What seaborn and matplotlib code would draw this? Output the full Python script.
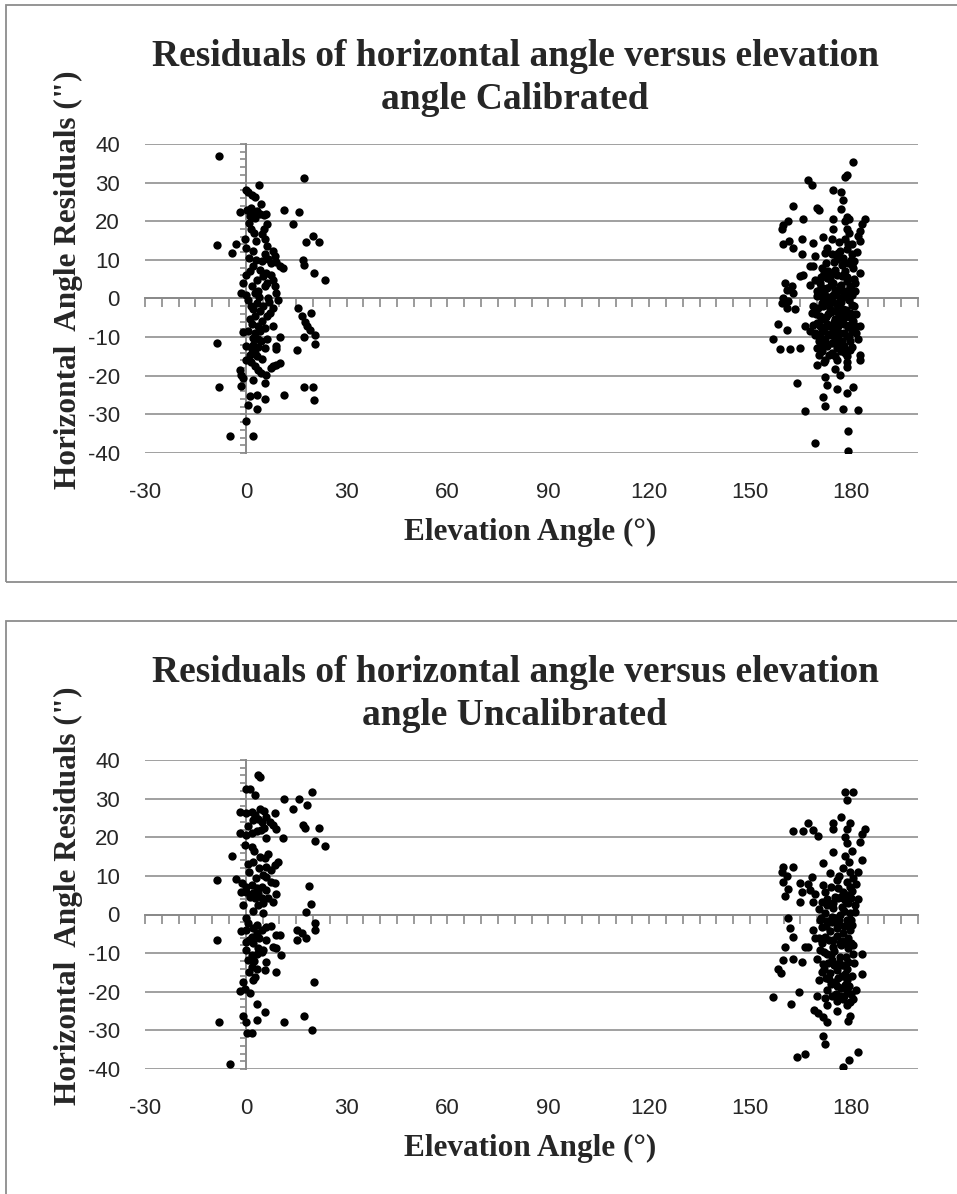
import numpy as np
import pandas as pd
import seaborn as sns
import matplotlib.pyplot as plt
from matplotlib.patches import Rectangle
from matplotlib.ticker import MultipleLocator

# (elevation angle in degrees, horizontal angle residual in arc seconds)
cal_low = [
    (-8.0, 36.9), (17.4, 31.1), (3.9, 29.5), (0.0, 28.2), (0.7, 27.5), (1.7, 26.9), (2.7, 26.3), (4.4, 24.4),
    (-1.8, 22.4), (0.4, 22.9), (1.5, 23.5), (2.2, 22.2), (3.2, 22.6), (4.2, 21.8), (5.4, 21.5), (2.7, 20.9),
    (1.2, 21.3), (6.0, 22.0), (11.4, 22.8), (15.8, 22.4), (13.9, 19.2), (6.2, 19.2), (1.5, 18.0), (5.4, 18.0),
    (4.9, 16.6), (5.7, 15.5), (20.0, 16.1), (18.0, 14.6), (21.8, 14.6), (-0.3, 15.3), (-8.7, 13.9), (-2.8, 14.0),
    (-4.0, 11.8), (0.2, 13.1), (2.2, 12.4), (6.2, 13.6), (8.1, 12.3), (5.7, 11.4), (8.6, 11.1), (6.6, 10.1),
    (7.6, 9.1), (9.1, 9.4), (10.1, 8.5), (11.1, 7.9), (4.7, 9.7), (16.9, 9.9), (17.4, 8.8), (2.0, 8.5),
    (1.2, 7.1), (4.2, 7.3), (20.2, 6.6), (5.2, 5.8), (3.2, 4.9), (0.2, 6.0), (23.5, 4.7), (8.1, 4.9),
    (6.2, 4.1), (-0.8, 4.1), (1.7, 3.2), (3.7, 1.9), (5.7, 3.2), (8.6, 3.2), (9.1, 1.5), (-1.3, 1.5),
    (0.2, 1.0), (2.7, 1.3), (9.6, -0.4), (3.2, -1.1), (5.1, -2.0), (8.1, -2.4), (2.2, -2.8), (4.2, -3.3),
    (7.1, -3.7), (15.6, -2.4), (19.3, -3.7), (16.6, -4.6), (2.7, -4.6), (1.2, -5.4), (4.7, -5.9), (6.2, -4.6),
    (17.6, -6.1), (18.1, -7.2), (3.7, -7.2), (1.7, -6.7), (-0.8, -8.7), (0.7, -8.5), (2.7, -8.9), (4.2, -8.5),
    (5.7, -7.6), (8.1, -7.2), (19.0, -8.2), (2.2, -10.2), (3.7, -10.6), (6.2, -10.4), (10.1, -9.9), (17.4, -9.9),
    (20.5, -9.5), (20.5, -11.9), (-8.7, -11.5), (0.2, -12.3), (1.7, -13.2), (2.7, -14.1), (1.2, -14.5), (5.7, -12.8),
    (9.1, -12.3), (9.1, -13.2), (15.1, -13.4), (4.9, -15.6), (3.2, -14.9), (8.1, -17.5), (9.1, -17.1), (10.1, -16.7),
    (7.5, -17.9), (2.7, -17.5), (3.7, -18.4), (-1.8, -18.4), (-1.3, -19.7), (4.6, -19.3), (5.9, -19.7), (-0.8, -20.6),
    (-1.3, -22.7), (2.2, -21.2), (5.7, -21.8), (-8.0, -22.9), (17.4, -22.9), (20.0, -22.9), (1.2, -25.3), (3.2, -24.9),
    (5.7, -26.0), (11.4, -24.9), (20.2, -26.4), (0.7, -27.5), (3.2, -28.6), (0.2, -31.8), (-4.6, -35.7), (2.2, -35.7),
    (1.0, 10.5), (3.0, 10.0), (0.5, -0.5), (1.5, -2.0), (4.0, 0.5), (6.5, 0.0), (7.0, -1.0), (2.0, -12.0),
    (3.5, -12.5), (4.5, -11.0), (0.0, -16.0), (1.5, -16.5), (6.0, 6.5), (7.5, 6.0), (3.0, 15.0), (2.5, 17.0),
    (0.8, 19.5),
]

cal_high = [
    (180.6, 35.3), (178.8, 32.1), (178.3, 31.5), (167.4, 30.7), (168.4, 29.5), (174.6, 28.1), (177.0, 27.5), (177.8, 25.4),
    (162.7, 23.9), (169.8, 23.5), (170.6, 22.8), (177.0, 23.2), (165.9, 20.7), (174.6, 20.6), (178.8, 21.2), (179.6, 20.5),
    (184.2, 20.7), (178.3, 20.0), (183.2, 19.2), (161.4, 20.0), (159.9, 18.9), (159.4, 17.9), (178.8, 18.0), (174.6, 17.9),
    (182.7, 17.4), (171.6, 16.0), (174.3, 15.3), (165.4, 15.3), (168.7, 14.4), (161.7, 15.0), (159.7, 14.0), (182.7, 14.9),
    (179.3, 14.0), (182.2, 16.1), (178.3, 15.5), (162.9, 13.1), (165.4, 11.4), (169.3, 11.0), (172.3, 11.8), (174.3, 11.4),
    (176.3, 11.8), (178.8, 12.7), (180.3, 11.4), (177.8, 10.5), (175.8, 10.1), (167.9, 8.4), (168.8, 8.4), (171.3, 7.9),
    (173.3, 7.1), (175.3, 7.5), (177.3, 8.8), (179.3, 9.2), (180.8, 7.9), (182.7, 6.6), (165.9, 6.0), (164.9, 5.8),
    (169.3, 4.9), (170.8, 4.1), (172.8, 5.4), (174.8, 4.1), (177.3, 5.8), (178.8, 4.5), (179.8, 3.2), (181.2, 4.1),
    (160.4, 4.1), (162.4, 3.2), (167.9, 3.6), (172.8, 2.8), (175.3, 2.3), (176.8, 3.2), (181.2, 1.9), (160.9, 2.3),
    (162.9, 1.5), (159.9, 0.2), (161.4, -0.7), (159.4, -1.1), (160.9, -2.4), (163.4, -2.8), (169.8, 0.6), (171.3, -1.1),
    (172.8, -0.3), (174.8, 1.0), (176.8, -0.7), (178.8, 0.6), (180.3, -1.6), (168.8, -1.9), (171.8, -1.9), (173.8, -2.8),
    (175.8, -1.6), (177.8, -2.8), (168.4, -3.7), (170.8, -4.6), (173.3, -4.1), (175.3, -5.4), (177.3, -4.6), (179.8, -3.7),
    (180.8, -5.9), (169.8, -6.3), (172.8, -6.7), (176.3, -7.2), (182.7, -7.2), (166.4, -7.2), (158.4, -6.5), (160.9, -8.2),
    (167.9, -8.5), (169.3, -8.9), (171.3, -8.5), (173.3, -9.3), (174.8, -8.0), (176.8, -8.9), (178.8, -9.8), (180.3, -8.5),
    (179.8, -11.1), (172.3, -10.6), (174.3, -11.5), (176.3, -10.6), (156.9, -10.4), (170.8, -9.8), (158.9, -13.0), (161.9, -13.0),
    (164.9, -12.8), (169.8, -12.8), (171.3, -13.6), (172.8, -12.3), (175.8, -12.8), (178.3, -14.1), (179.8, -13.4), (182.7, -14.5),
    (182.7, -15.8), (178.8, -14.9), (172.3, -15.8), (169.8, -17.1), (175.3, -18.2), (176.8, -19.7), (178.8, -17.7), (172.3, -20.3),
    (163.9, -21.8), (172.8, -22.5), (175.8, -23.4), (180.8, -22.9), (178.8, -24.4), (171.6, -25.5), (166.4, -29.0), (172.3, -27.9),
    (177.6, -28.6), (182.2, -28.9), (179.3, -34.4), (169.3, -37.4), (179.3, -39.6),
    (170.2, -2.5), (171.5, -5.2), (172.4, -7.5), (173.5, -1.2), (174.2, -3.4), (175.0, -6.0), (175.9, -8.6), (176.5, -4.2),
    (177.2, -1.0), (178.0, -6.5), (178.6, -3.0), (179.2, -7.5), (180.0, -5.0), (181.0, -2.0), (169.5, -9.5), (170.5, -11.0),
    (171.9, -10.8), (173.0, -12.0), (174.0, -9.5), (175.2, -10.2), (176.1, -12.0), (177.4, -11.0), (178.1, -9.0), (179.5, -10.0),
    (181.5, -9.0), (170.0, 2.0), (171.0, 3.0), (172.0, 1.5), (173.2, 0.5), (174.0, 3.5), (175.5, 1.0), (176.5, 2.5),
    (177.5, 0.0), (178.5, 2.0), (179.5, -0.5), (180.5, 1.0), (172.0, 6.5), (173.8, 5.0), (175.0, 9.5), (176.0, 6.0),
    (177.0, 3.5), (178.2, 7.0), (179.0, 5.5), (180.0, 10.0), (181.0, 5.0), (181.8, 12.0), (180.5, 14.0), (179.5, 17.0),
    (176.5, 14.5), (173.0, 13.0), (170.5, -14.5), (172.0, -16.5), (174.5, -14.0), (176.0, -16.0), (177.0, -13.5), (179.0, -16.5),
    (180.5, -12.5), (181.5, -4.0), (182.0, -10.5), (168.8, -6.8),
    (170.9, -7.0), (173.9, -7.0), (176.9, -6.2), (179.9, -6.8), (171.6, 0.0), (174.6, -1.0), (177.6, 1.6), (180.2, 2.4),
    (169.6, -4.0), (172.6, -4.8), (175.6, -3.2), (178.4, -4.8), (181.3, -7.0), (171.2, 5.6), (174.4, 6.6), (177.6, 6.2),
    (180.4, 8.6), (172.6, 9.2), (176.8, 12.4), (173.6, -14.6), (177.9, -12.4), (175.4, -15.0), (171.0, -12.4), (181.0, 9.6),
]

uncal_low = [
    (3.7, 36.1), (4.3, 35.5), (0.0, 32.4), (1.2, 32.4), (2.7, 31.0), (19.8, 31.8), (11.4, 29.8), (15.9, 29.8),
    (18.1, 28.4), (13.9, 27.2), (-1.8, 26.6), (0.2, 26.2), (1.7, 26.6), (2.7, 25.8), (4.1, 27.2), (5.3, 26.9),
    (3.6, 24.8), (2.2, 24.4), (8.6, 26.2), (6.1, 25.3), (4.9, 24.0), (7.1, 24.0), (8.1, 23.2), (9.1, 22.1),
    (16.9, 23.2), (17.6, 22.3), (21.8, 22.5), (-1.8, 21.0), (0.2, 20.6), (1.7, 21.0), (3.2, 21.5), (4.6, 21.9),
    (6.1, 19.7), (11.1, 19.7), (20.5, 18.9), (23.5, 17.8), (-0.3, 18.0), (1.7, 17.4), (-4.0, 15.2), (4.1, 15.0),
    (6.6, 15.7), (5.6, 14.7), (9.6, 13.7), (0.7, 13.2), (2.2, 13.7), (6.1, 12.4), (7.6, 11.5), (8.6, 12.8),
    (5.2, 10.2), (6.1, 9.8), (7.6, 8.5), (8.6, 8.2), (-8.7, 8.9), (-2.8, 9.1), (-1.0, 8.1), (0.2, 7.2),
    (1.7, 7.6), (3.2, 6.8), (4.7, 7.2), (6.1, 6.3), (18.8, 7.4), (-1.3, 5.9), (0.2, 5.9), (2.2, 5.5),
    (3.7, 5.5), (2.7, 4.2), (1.2, 4.6), (4.7, 4.2), (9.1, 5.3), (8.1, 3.3), (6.6, 4.2), (-0.8, 2.5),
    (3.7, 2.5), (5.2, 2.9), (19.5, 2.7), (17.9, 0.7), (0.0, -1.0), (0.7, -2.3), (2.2, -3.6), (-1.3, -4.4),
    (0.2, -4.0), (3.2, -2.7), (4.7, -4.0), (6.1, -3.2), (7.6, -3.0), (3.2, -4.9), (1.7, -5.7), (9.1, -5.3),
    (10.1, -5.3), (15.1, -4.0), (16.7, -4.9), (17.9, -6.0), (20.5, -2.1), (20.5, -4.0), (-8.7, -6.6), (15.1, -6.6),
    (6.1, -6.6), (8.1, -8.3), (9.1, -8.7), (0.2, -7.0), (2.2, -7.5), (3.7, -8.8), (5.2, -9.2), (0.2, -9.2),
    (1.7, -10.5), (3.2, -10.1), (4.7, -9.6), (6.1, -12.2), (0.7, -11.7), (10.5, -10.5), (1.7, -13.5), (3.2, -14.0),
    (5.6, -14.4), (9.1, -14.8), (2.7, -16.1), (2.2, -17.0), (20.3, -17.4), (-0.8, -17.4), (-1.8, -19.7), (-0.3, -19.4),
    (1.2, -20.4), (3.2, -23.2), (5.6, -25.2), (-0.8, -26.2), (0.2, -27.8), (3.2, -27.2), (-8.1, -27.8), (11.4, -27.8),
    (17.4, -26.2), (19.8, -29.9), (0.4, -30.8), (1.7, -30.8), (-4.6, -38.6),
    (1.0, 11.0), (3.0, 9.5), (4.0, 12.0), (2.5, 16.5), (0.5, 23.0), (5.5, 22.5), (1.0, -6.5), (4.0, -6.0),
    (2.5, -12.0), (0.8, -15.0), (5.0, 0.5), (2.0, 1.0),
]

uncal_high = [
    (178.3, 31.6), (180.8, 31.8), (178.8, 29.7), (177.0, 25.2), (174.8, 23.8), (179.8, 23.8), (174.6, 22.1), (167.4, 23.8),
    (168.8, 21.9), (170.3, 20.3), (162.7, 21.6), (165.7, 21.6), (184.2, 22.1), (183.2, 20.9), (178.9, 22.2), (178.3, 20.1),
    (182.7, 18.8), (178.8, 18.4), (174.6, 16.3), (178.3, 15.2), (183.2, 14.1), (171.6, 13.3), (159.7, 12.4), (162.7, 12.2),
    (159.4, 11.1), (160.9, 10.0), (173.8, 10.7), (177.8, 12.0), (179.8, 11.1), (182.2, 11.1), (168.4, 9.6), (159.9, 8.5),
    (164.9, 8.1), (167.4, 7.9), (171.8, 7.6), (175.8, 8.9), (178.8, 8.5), (180.8, 9.4), (161.4, 6.5), (160.4, 4.8),
    (165.4, 5.7), (167.9, 6.4), (169.3, 5.4), (172.3, 5.9), (176.3, 6.8), (177.8, 5.9), (179.8, 7.2), (168.8, 3.3),
    (171.3, 3.3), (164.9, 3.3), (175.3, 4.6), (177.8, 4.2), (172.8, 2.5), (174.8, 1.6), (177.3, 2.0), (179.3, 2.9),
    (181.2, 2.5), (172.3, 0.3), (174.3, -0.6), (176.8, -0.1), (179.8, 0.3), (181.2, 0.7), (170.8, -1.4), (175.8, -2.3),
    (178.8, -1.4), (161.4, -1.0), (180.3, -2.7), (161.9, -3.6), (168.8, -4.0), (171.3, -3.2), (173.8, -4.4), (175.8, -3.6),
    (177.8, -4.9), (179.8, -4.0), (162.9, -5.7), (169.3, -6.2), (172.3, -5.7), (174.8, -6.6), (176.8, -7.5), (179.3, -6.2),
    (166.4, -8.3), (167.4, -8.5), (160.4, -8.3), (170.8, -9.2), (172.8, -10.1), (174.8, -8.3), (176.8, -10.9), (179.3, -8.8),
    (180.8, -10.1), (183.2, -10.1), (159.9, -11.8), (162.9, -11.4), (165.4, -12.2), (171.8, -12.7), (174.3, -11.8), (177.3, -13.1),
    (179.3, -12.2), (158.4, -14.2), (159.1, -15.1), (171.3, -14.8), (173.8, -15.2), (175.8, -14.4), (178.3, -15.4), (183.2, -15.4),
    (170.6, -16.9), (172.6, -16.5), (175.3, -17.4), (178.8, -17.0), (156.9, -21.4), (164.7, -20.0), (169.8, -21.1), (172.3, -21.7),
    (175.8, -22.3), (177.8, -22.0), (179.8, -22.6), (180.8, -22.0), (162.1, -23.2), (178.8, -19.6), (178.3, -18.3), (169.0, -24.6),
    (170.3, -25.6), (171.8, -26.5), (173.0, -27.8), (179.8, -26.3), (179.3, -27.5), (171.6, -31.5), (172.3, -33.5), (163.9, -37.0),
    (166.4, -36.0), (182.2, -35.5), (179.6, -37.7), (177.6, -39.6),
    (171.0, -1.0), (172.5, -3.0), (173.5, -6.5), (174.5, -2.0), (175.0, -9.5), (176.0, -5.5), (177.0, -8.0), (178.0, -3.0),
    (178.5, -11.0), (179.0, -14.0), (180.0, -7.5), (181.0, -12.5), (170.0, -11.5), (171.5, -7.5), (172.0, -14.0), (173.2, -12.5),
    (174.0, -18.0), (175.0, -13.0), (176.2, -16.5), (177.2, -19.0), (178.0, -21.0), (179.5, -18.5), (180.5, -16.0), (181.5, -19.5),
    (173.0, -19.5), (174.5, -21.0), (176.5, -1.5), (178.0, 1.0), (180.0, -1.5), (177.0, 4.5), (179.0, 5.0), (180.5, 6.0),
    (181.5, 8.0), (182.0, 4.0), (179.5, 13.5), (180.5, 16.5), (176.5, 10.0), (174.0, 7.0), (173.0, 4.0), (170.5, 1.5),
    (175.5, -20.5), (177.5, -16.0), (179.0, -23.5), (176.0, -25.0),
    (171.9, -9.8), (174.1, -10.6), (176.4, -12.6), (178.6, -7.2), (180.6, -8.0), (170.4, -6.0), (172.9, -1.6), (175.2, -0.8),
    (177.5, -6.8), (179.6, -2.6), (173.4, -16.6), (175.9, -18.6), (178.2, -13.2), (180.2, -20.6), (176.8, -21.2), (172.9, -23.5),
    (174.6, 3.0), (178.4, 3.8), (176.2, 4.2), (180.0, 4.4),
]

panels = [
    ("Residuals of horizontal angle versus elevation\nangle Calibrated", cal_low + cal_high),
    ("Residuals of horizontal angle versus elevation\nangle Uncalibrated", uncal_low + uncal_high),
]

x_labels = list(range(-30, 181, 30))
y_labels = list(range(-40, 41, 10))

sns.set_style("white")
plt.rcParams['font.family'] = ['Liberation Sans', 'DejaVu Sans']
plt.rcParams['axes.unicode_minus'] = False

grid_gray = '#a0a0a0'
axis_gray = '#8a8a8a'
serif_bold = dict(family=['Liberation Serif', 'DejaVu Serif'], weight='bold')

fig = plt.figure(figsize=(9.57, 11.94), dpi=100)
W, H = 957, 1194

for i, (title, pts) in enumerate(panels):
    off = 616 * i
    # panel frame
    fig.add_artist(Rectangle((6 / W, 1 - (582 + off) / H), 1.0, 577 / H,
                             transform=fig.transFigure, fill=False,
                             edgecolor='#8c8c8c', lw=1.3))

    ax = fig.add_axes([145 / W, 1 - (453 + off) / H, 773 / W, 309 / H])
    df = pd.DataFrame(pts, columns=['elev', 'resid'])
    sns.scatterplot(data=df, x='elev', y='resid', ax=ax, color='black',
                    s=36, linewidth=0, zorder=3)
    ax.set_xlim(-30, 200)
    ax.set_ylim(-40, 40)
    ax.set_xlabel('')
    ax.set_ylabel('')

    for side in ['top', 'right']:
        ax.spines[side].set_visible(False)
    for side in ['left', 'bottom']:
        ax.spines[side].set_position(('data', 0))
        ax.spines[side].set_color(axis_gray)
        ax.spines[side].set_linewidth(1.4)
        ax.spines[side].set_zorder(1)

    ax.xaxis.set_major_locator(MultipleLocator(30))
    ax.xaxis.set_minor_locator(MultipleLocator(5))
    ax.yaxis.set_major_locator(MultipleLocator(10))
    ax.yaxis.set_minor_locator(MultipleLocator(2))
    ax.tick_params(axis='x', which='both', bottom=True, length=6.5, width=1.2,
                   color=axis_gray, direction='out', labelbottom=False)
    ax.tick_params(axis='y', which='both', left=True, length=4.5, width=1.2,
                   color=axis_gray, direction='out', labelleft=False)
    ax.grid(axis='y', which='major', color=grid_gray, lw=1.4)
    ax.grid(axis='x', visible=False)
    ax.set_axisbelow(True)

    secx = ax.secondary_xaxis('bottom')
    secx.set_xticks(x_labels)
    secx.tick_params(length=0, pad=21, labelsize=16)
    secx.spines['bottom'].set_visible(False)
    secy = ax.secondary_yaxis('left')
    secy.set_yticks(y_labels)
    secy.tick_params(length=0, pad=18, labelsize=16)
    secy.spines['left'].set_visible(False)

    fig.text(515 / W, 1 - (78 + off) / H, title, ha='center', va='center',
             fontsize=27, linespacing=1.3, **serif_bold)
    fig.text(530 / W, 1 - (532 + off) / H, 'Elevation Angle (\u00b0)',
             ha='center', va='center', fontsize=22.5, **serif_bold)
    fig.text(68 / W, 1 - (280 + off) / H, 'Horizontal  Angle Residuals (")',
             ha='center', va='center', rotation=90, fontsize=22.5, **serif_bold)

fig.savefig('out.png', dpi=100)
